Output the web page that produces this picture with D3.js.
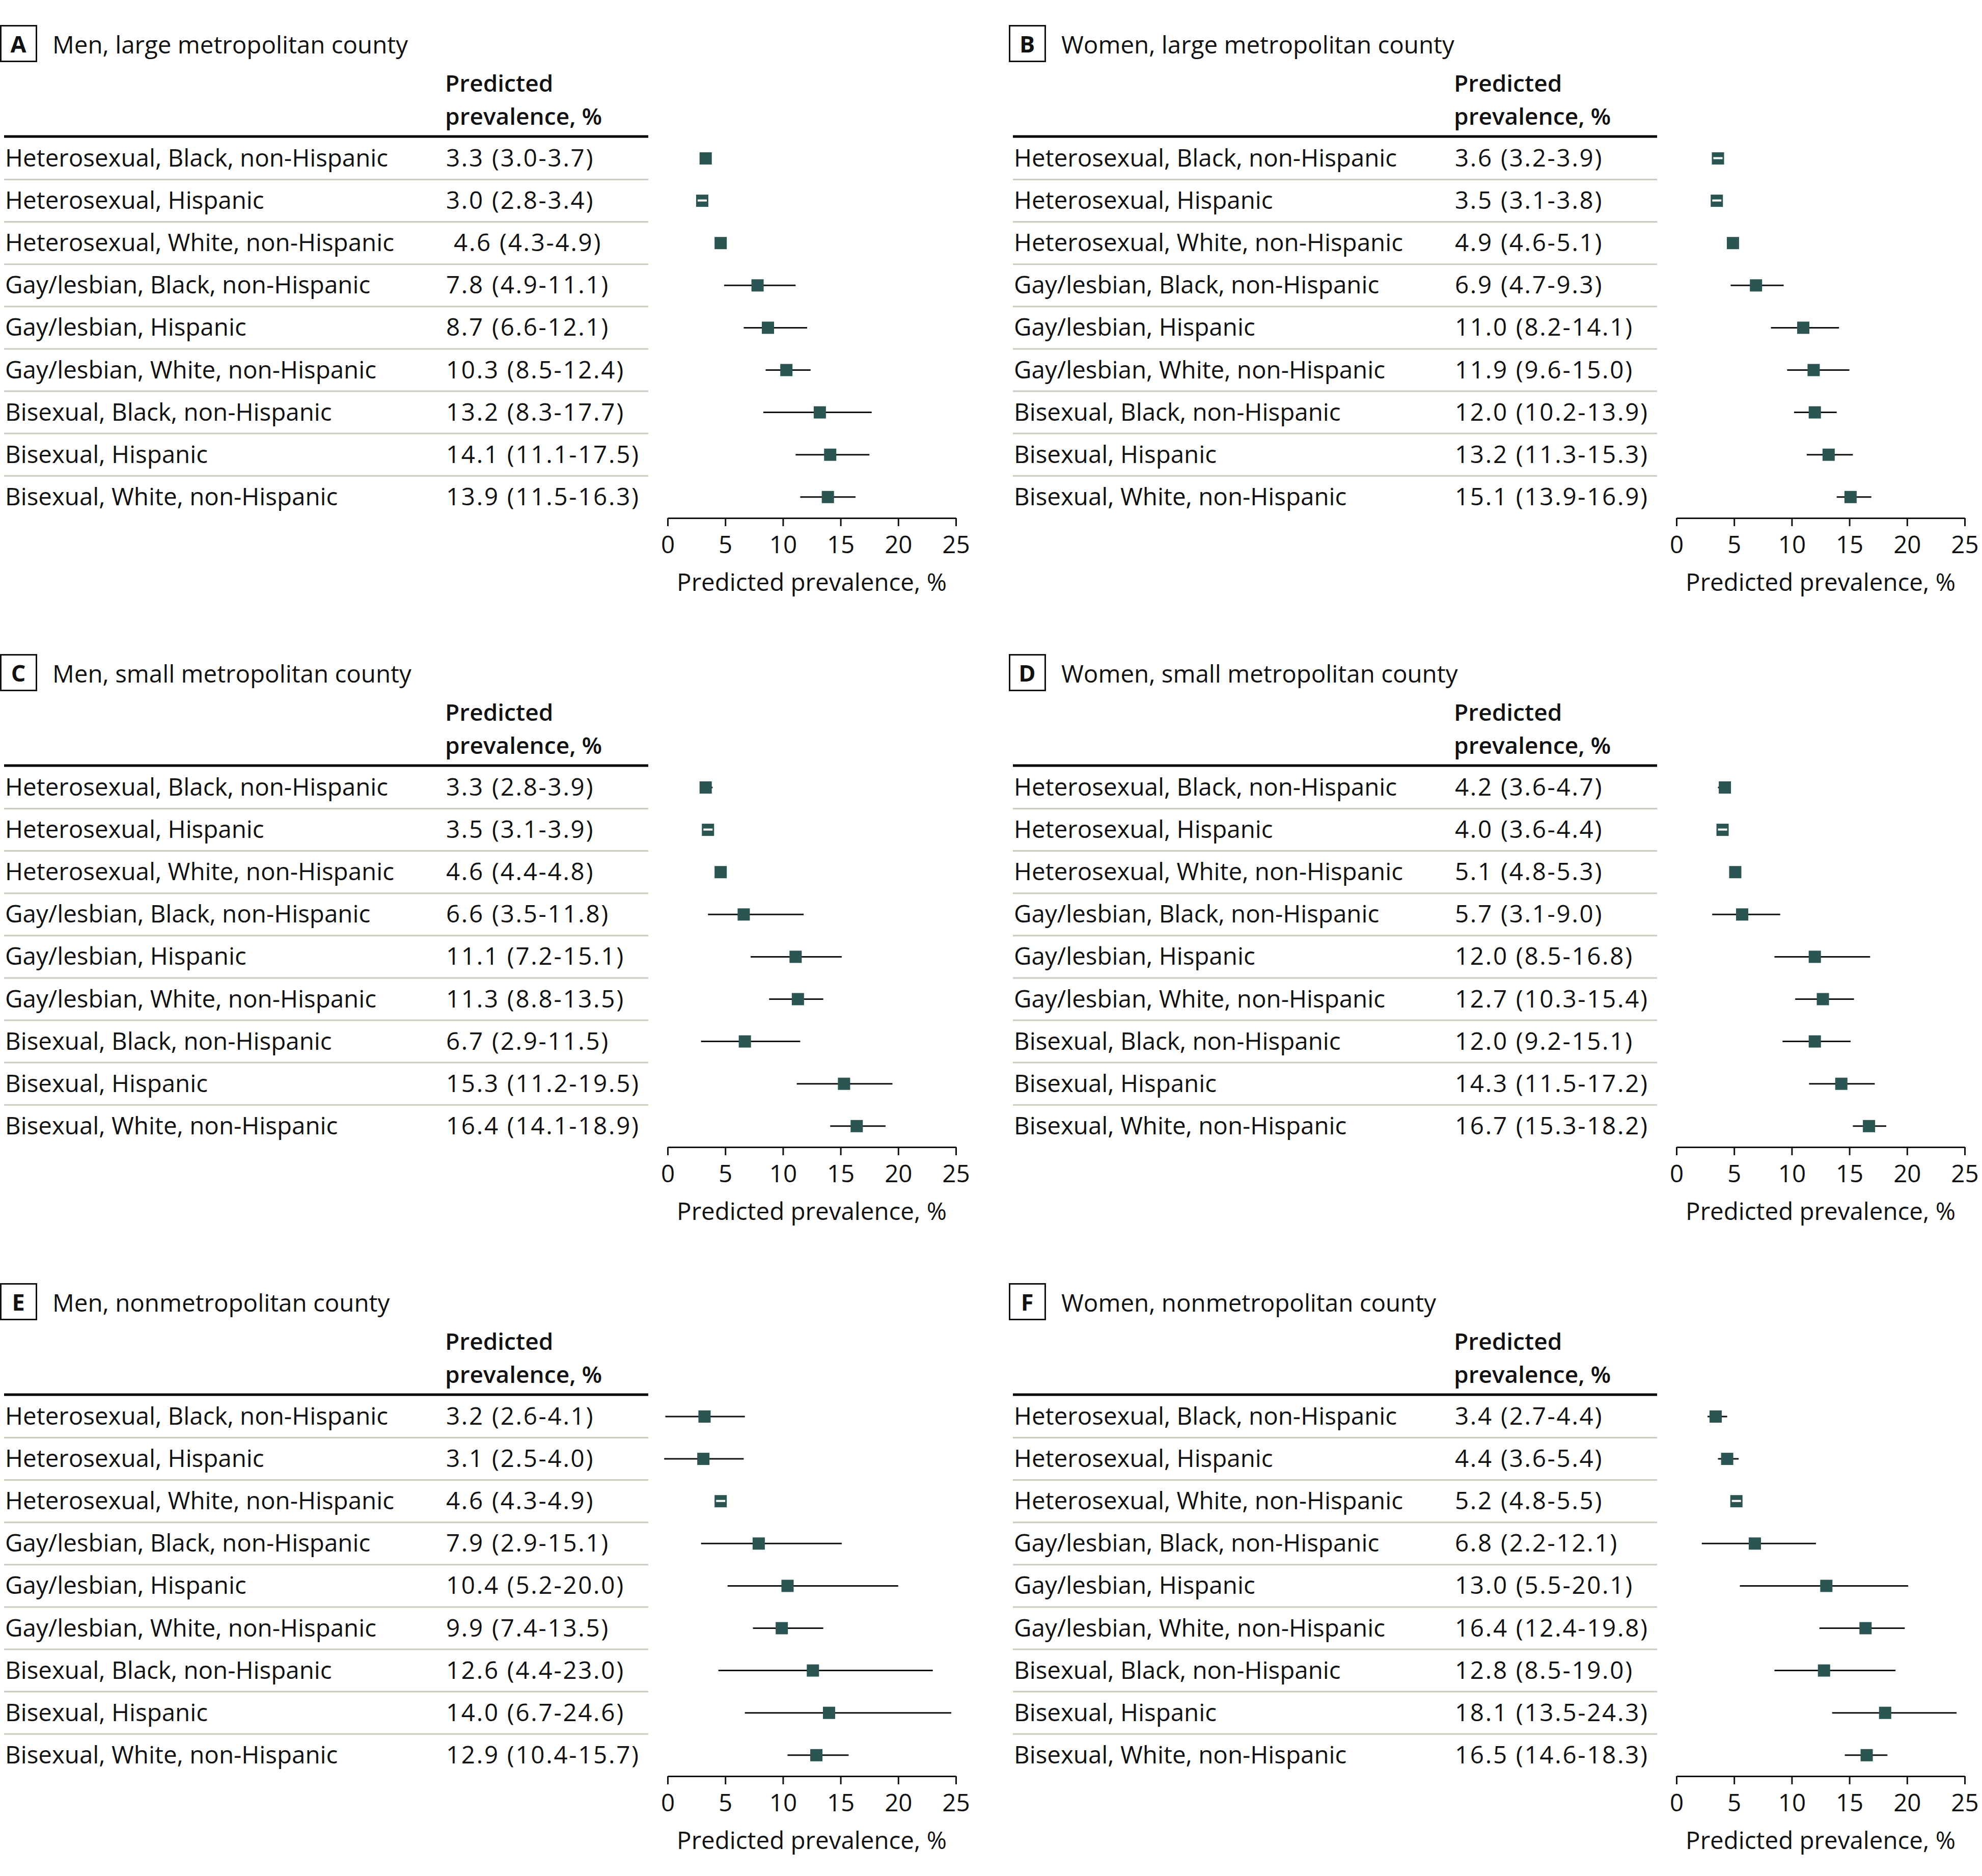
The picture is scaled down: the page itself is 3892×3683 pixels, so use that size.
<!DOCTYPE html>
<html>
<head>
<meta charset="utf-8">
<script src="https://cdn.jsdelivr.net/npm/d3@7"></script>
<style>
  html, body { margin: 0; padding: 0; background: #fff; }
  svg { display: block; }
  text { font-family: "Open Sans", "Noto Sans", sans-serif; fill: #111; }
</style>
</head>
<body>
<svg id="chart" width="3892" height="3683"></svg>
<script>
// ---------- data ----------
const categories = [
  "Heterosexual, Black, non-Hispanic",
  "Heterosexual, Hispanic",
  "Heterosexual, White, non-Hispanic",
  "Gay/lesbian, Black, non-Hispanic",
  "Gay/lesbian, Hispanic",
  "Gay/lesbian, White, non-Hispanic",
  "Bisexual, Black, non-Hispanic",
  "Bisexual, Hispanic",
  "Bisexual, White, non-Hispanic"
];
const panelLetters = ["A", "B", "C", "D", "E", "F"];
const panelTitles = [
  "Men, large metropolitan county",
  "Women, large metropolitan county",
  "Men, small metropolitan county",
  "Women, small metropolitan county",
  "Men, nonmetropolitan county",
  "Women, nonmetropolitan county"
];
const columnHeader = ["Predicted", "prevalence, %"];
const axisTitle = "Predicted prevalence, %";
const tickValues = [0, 5, 10, 15, 20, 25];

// point estimates (drawn markers)
const estA = [3.3, 3.0, 4.6, 7.8, 8.7, 10.3, 13.2, 14.1, 13.9];
const estB = [3.6, 3.5, 4.9, 6.9, 11.0, 11.9, 12.0, 13.2, 15.1];
const estC = [3.3, 3.5, 4.6, 6.6, 11.1, 11.3, 6.7, 15.3, 16.4];
const estD = [4.2, 4.0, 5.1, 5.7, 12.0, 12.7, 12.0, 14.3, 16.7];
const estE = [3.2, 3.1, 4.6, 7.9, 10.4, 9.9, 12.6, 14.0, 12.9];
const estF = [3.4, 4.4, 5.2, 6.8, 13.0, 16.4, 12.8, 18.1, 16.5];
// drawn CI lower bounds
const loA = [3.0, 2.8, 4.3, 4.9, 6.6, 8.5, 8.3, 11.1, 11.5];
const loB = [3.2, 3.1, 4.6, 4.7, 8.2, 9.6, 10.2, 11.3, 13.9];
const loC = [2.8, 3.1, 4.4, 3.5, 7.2, 8.8, 2.9, 11.2, 14.1];
const loD = [3.6, 3.6, 4.8, 3.1, 8.5, 10.3, 9.2, 11.5, 15.3];
const loE = [-0.2, -0.3, 4.3, 2.9, 5.2, 7.4, 4.4, 6.7, 10.4];
const loF = [2.7, 3.6, 4.8, 2.2, 5.5, 12.4, 8.5, 13.5, 14.6];
// drawn CI upper bounds
const hiA = [3.7, 3.4, 4.9, 11.1, 12.1, 12.4, 17.7, 17.5, 16.3];
const hiB = [3.9, 3.8, 5.1, 9.3, 14.1, 15.0, 13.9, 15.3, 16.9];
const hiC = [3.9, 3.9, 4.8, 11.8, 15.1, 13.5, 11.5, 19.5, 18.9];
const hiD = [4.7, 4.4, 5.3, 9.0, 16.8, 15.4, 15.1, 17.2, 18.2];
const hiE = [6.7, 6.6, 4.9, 15.1, 20.0, 13.5, 23.0, 24.6, 15.7];
const hiF = [4.4, 5.4, 5.5, 12.1, 20.1, 19.8, 19.0, 24.3, 18.3];
// table text (as printed)
const txtA = ["3.3 (3.0-3.7)", "3.0 (2.8-3.4)", " 4.6 (4.3-4.9)", "7.8 (4.9-11.1)", "8.7 (6.6-12.1)", "10.3 (8.5-12.4)", "13.2 (8.3-17.7)", "14.1 (11.1-17.5)", "13.9 (11.5-16.3)"];
const txtB = ["3.6 (3.2-3.9)", "3.5 (3.1-3.8)", "4.9 (4.6-5.1)", "6.9 (4.7-9.3)", "11.0 (8.2-14.1)", "11.9 (9.6-15.0)", "12.0 (10.2-13.9)", "13.2 (11.3-15.3)", "15.1 (13.9-16.9)"];
const txtC = ["3.3 (2.8-3.9)", "3.5 (3.1-3.9)", "4.6 (4.4-4.8)", "6.6 (3.5-11.8)", "11.1 (7.2-15.1)", "11.3 (8.8-13.5)", "6.7 (2.9-11.5)", "15.3 (11.2-19.5)", "16.4 (14.1-18.9)"];
const txtD = ["4.2 (3.6-4.7)", "4.0 (3.6-4.4)", "5.1 (4.8-5.3)", "5.7 (3.1-9.0)", "12.0 (8.5-16.8)", "12.7 (10.3-15.4)", "12.0 (9.2-15.1)", "14.3 (11.5-17.2)", "16.7 (15.3-18.2)"];
const txtE = ["3.2 (2.6-4.1)", "3.1 (2.5-4.0)", "4.6 (4.3-4.9)", "7.9 (2.9-15.1)", "10.4 (5.2-20.0)", "9.9 (7.4-13.5)", "12.6 (4.4-23.0)", "14.0 (6.7-24.6)", "12.9 (10.4-15.7)"];
const txtF = ["3.4 (2.7-4.4)", "4.4 (3.6-5.4)", "5.2 (4.8-5.5)", "6.8 (2.2-12.1)", "13.0 (5.5-20.1)", "16.4 (12.4-19.8)", "12.8 (8.5-19.0)", "18.1 (13.5-24.3)", "16.5 (14.6-18.3)"];
// rows whose marker shows the inner light CI dash
const dashRows = [[1], [0, 1], [1], [1], [2], [2]];

const estimates = [estA, estB, estC, estD, estE, estF];
const lowers = [loA, loB, loC, loD, loE, loF];
const uppers = [hiA, hiB, hiC, hiD, hiE, hiF];
const texts = [txtA, txtB, txtC, txtD, txtE, txtF];

// ---------- layout ----------
const colOffset = 1981, rowOffset = 1235;
const FS = 47.5;
const markerColor = "#2b5552";
const sepColor = "#c8ccbd";

const svg = d3.select("#chart");

panelLetters.forEach((letter, p) => {
  const g = svg.append("g")
    .attr("transform", `translate(${(p % 2) * colOffset},${Math.floor(p / 2) * rowOffset})`);

  const x = d3.scaleLinear().domain([0, 25]).range([1311, 1877]);
  const y = d3.scaleLinear().domain([0, 8]).range([311, 311 + 8 * 83.1]);

  // panel letter box
  g.append("rect").attr("x", 1.5).attr("y", 50.5).attr("width", 70).attr("height", 70)
    .attr("fill", "none").attr("stroke", "#111").attr("stroke-width", 3);
  g.append("text").attr("x", 36).attr("y", 103).attr("text-anchor", "middle")
    .attr("font-size", 45).attr("font-weight", 700).text(letter);
  g.append("text").attr("x", 103).attr("y", 105).attr("font-size", FS).text(panelTitles[p]);

  // column header
  columnHeader.forEach((t, i) => {
    g.append("text").attr("x", 874).attr("y", 180 + i * 65)
      .attr("font-size", 46).attr("font-weight", 600).text(t);
  });
  g.append("line").attr("x1", 8).attr("x2", 1273).attr("y1", 268).attr("y2", 268)
    .attr("stroke", "#000").attr("stroke-width", 5);

  // separators
  g.selectAll("line.sep").data(d3.range(8)).join("line").attr("class", "sep")
    .attr("x1", 8).attr("x2", 1273)
    .attr("y1", i => y(i) + 41.5).attr("y2", i => y(i) + 41.5)
    .attr("stroke", sepColor).attr("stroke-width", 3);

  // row labels and values
  g.selectAll("text.lab").data(categories).join("text").attr("class", "lab")
    .attr("x", 10).attr("y", (d, i) => y(i) + 16).attr("font-size", FS).text(d => d);
  g.selectAll("text.val").data(texts[p]).join("text").attr("class", "val")
    .attr("x", 876).attr("y", (d, i) => y(i) + 16).attr("font-size", FS)
    .attr("letter-spacing", 2.7)
    .style("white-space", "pre").text(d => d);

  // CI lines
  g.selectAll("line.ci").data(estimates[p]).join("line").attr("class", "ci")
    .attr("x1", (d, i) => x(lowers[p][i])).attr("x2", (d, i) => x(uppers[p][i]))
    .attr("y1", (d, i) => y(i)).attr("y2", (d, i) => y(i))
    .attr("stroke", "#111").attr("stroke-width", 3);

  // markers
  const ms = 24;
  g.selectAll("rect.pt").data(estimates[p]).join("rect").attr("class", "pt")
    .attr("x", d => x(d) - ms / 2).attr("y", (d, i) => y(i) - ms / 2)
    .attr("width", ms).attr("height", ms).attr("fill", markerColor);

  g.selectAll("line.dash").data(dashRows[p]).join("line").attr("class", "dash")
    .attr("x1", i => x(estimates[p][i]) - 9).attr("x2", i => x(estimates[p][i]) + 9)
    .attr("y1", i => y(i) - 0.5).attr("y2", i => y(i) - 0.5)
    .attr("stroke", "#fff").attr("stroke-width", 4);

  // axis
  const axis = d3.axisBottom(x).tickValues(tickValues).tickSize(16).tickSizeOuter(0).tickPadding(19);
  const ag = g.append("g").attr("transform", "translate(0,1017)").call(axis);
  ag.select(".domain").attr("stroke", "#111").attr("stroke-width", 3);
  ag.selectAll(".tick line").attr("stroke", "#111").attr("stroke-width", 3);
  ag.selectAll(".tick text").attr("font-size", FS).attr("font-family", '"Open Sans", sans-serif').attr("fill", "#111");

  g.append("text").attr("x", (x(0) + x(25)) / 2).attr("y", 1160)
    .attr("text-anchor", "middle").attr("font-size", FS).text(axisTitle);
});
</script>
</body>
</html>
